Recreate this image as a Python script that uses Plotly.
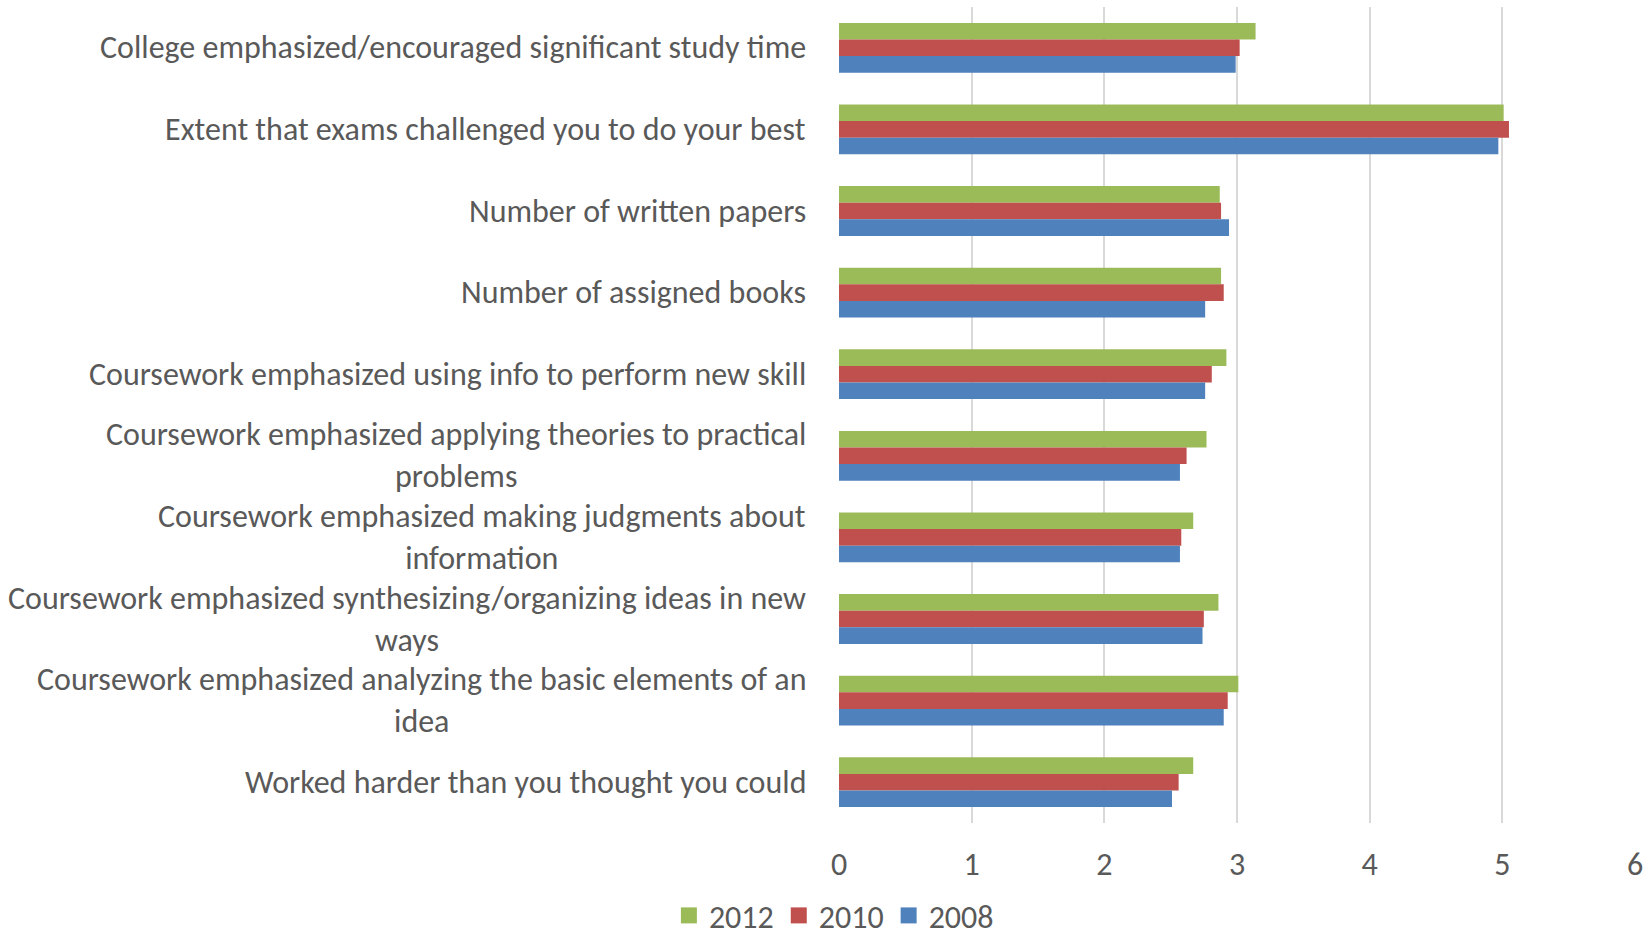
import plotly.graph_objects as go

# Survey items (top to bottom)
categories = [
    "College emphasized/encouraged significant study time",
    "Extent that exams challenged you to do your best",
    "Number of written papers",
    "Number of assigned books",
    "Coursework emphasized using info to perform new skill",
    "Coursework emphasized applying theories to practical<br>problems",
    "Coursework emphasized making judgments about<br>information",
    "Coursework emphasized synthesizing/organizing ideas in new<br>ways",
    "Coursework emphasized analyzing the basic elements of an<br>idea",
    "Worked harder than you thought you could",
]

values_2012 = [3.14, 5.01, 2.87, 2.88, 2.92, 2.77, 2.67, 2.86, 3.01, 2.67]
values_2010 = [3.02, 5.05, 2.88, 2.90, 2.81, 2.62, 2.58, 2.75, 2.93, 2.56]
values_2008 = [2.99, 4.97, 2.94, 2.76, 2.76, 2.57, 2.57, 2.74, 2.90, 2.51]

x_ticks = [0, 1, 2, 3, 4, 5, 6]

series = [
    ("2012", values_2012, "#9BBB59"),
    ("2010", values_2010, "#C0504D"),
    ("2008", values_2008, "#4F81BD"),
]

FONT = "Carlito, Calibri, Lato, sans-serif"
TEXT_COLOR = "#595959"

y_idx = list(range(len(categories)))

fig = go.Figure()
for name, vals, color in series:
    fig.add_trace(go.Bar(
        name=name,
        y=y_idx,
        x=vals,
        orientation="h",
        marker=dict(color=color, line=dict(width=0)),
        showlegend=False,
    ))

# Legend entries with larger square swatches
for name, _, color in series:
    fig.add_trace(go.Scatter(
        name=name,
        x=[None], y=[None],
        mode="markers",
        marker=dict(symbol="square", size=16, color=color),
        showlegend=True,
    ))

# Category labels, right-aligned against the plot and centred line by line
for i, label in enumerate(categories):
    fig.add_annotation(
        text=label,
        xref="paper", x=0, xshift=-31, xanchor="right",
        yref="y", y=i, yanchor="middle",
        align="center",
        showarrow=False,
        font=dict(family=FONT, size=32, color=TEXT_COLOR),
    )

fig.update_layout(
    width=1648, height=941,
    margin=dict(l=839, r=13, t=7, b=118, autoexpand=False),
    paper_bgcolor="white",
    plot_bgcolor="white",
    barmode="group",
    bargap=0.39,
    bargroupgap=0,
    font=dict(family=FONT, size=32, color=TEXT_COLOR),
    legend=dict(
        orientation="h",
        xref="container", x=0.506, xanchor="center",
        yref="container", y=0.027, yanchor="middle",
        font=dict(family=FONT, size=32, color=TEXT_COLOR),
        itemwidth=30,
        itemsizing="trace",
        tracegroupgap=0,
    ),
    showlegend=True,
)

fig.update_xaxes(
    range=[0, 6],
    tickvals=x_ticks,
    ticktext=[str(t) for t in x_ticks],
    showgrid=True, gridcolor="#D9D9D9", gridwidth=1.5,
    zeroline=False,
    showline=False,
    ticks="",
    ticklabelstandoff=19,
    tickfont=dict(family=FONT, size=32, color=TEXT_COLOR),
    fixedrange=True,
)

fig.update_yaxes(
    type="linear",
    range=[len(categories) - 0.5, -0.5],
    showticklabels=False,
    showgrid=False,
    zeroline=False,
    showline=False,
    ticks="",
    fixedrange=True,
)

fig.write_html("out.html")
